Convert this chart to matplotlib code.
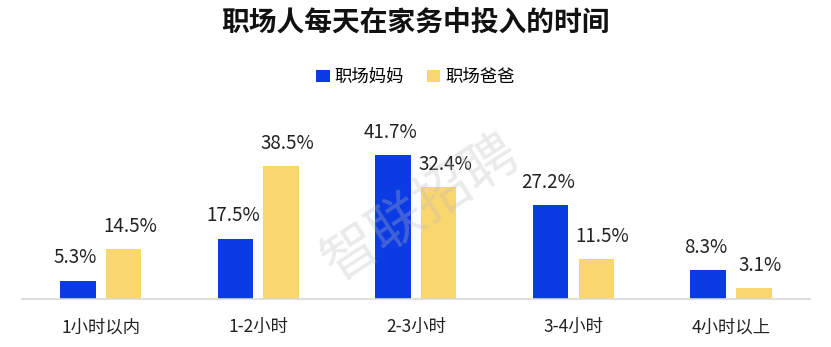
import matplotlib
matplotlib.use("Agg")
import matplotlib.pyplot as plt
import numpy as np
from matplotlib.patches import Patch

plt.rcParams['font.family'] = ['Noto Sans CJK SC', 'DejaVu Sans']

categories = ["1小时以内", "1-2小时", "2-3小时", "3-4小时", "4小时以上"]
moms = [5.3, 17.5, 41.7, 27.2, 8.3]
dads = [14.5, 38.5, 32.4, 11.5, 3.1]
series_names = ["职场妈妈", "职场爸爸"]
title = "职场人每天在家务中投入的时间"

blue = "#0B3BE3"
yellow = "#FAD66E"

fig = plt.figure(figsize=(8.31, 3.47), dpi=100)
ax = fig.add_axes([0.0265, 0.1383, 0.948, 0.497])
x = np.arange(len(categories))
w = 0.225
off = 0.145
ax.bar(x - off, moms, w, color=blue)
ax.bar(x + off, dads, w, color=yellow)
for xi, v in zip(x - off, moms):
    ax.text(xi - 0.015, v + 3.6, f"{v}%", ha="center", va="bottom", fontsize=13.5, color="#222222")
for xi, v in zip(x + off, dads):
    ax.text(xi + 0.04, v + 3.6, f"{v}%", ha="center", va="bottom", fontsize=13.5, color="#222222")
ax.set_xlim(-0.5, len(categories) - 0.5)
ax.set_ylim(0, 50)
ax.set_xticks(x)
ax.set_xticklabels(categories, fontsize=12.5, color="#222222")
ax.tick_params(axis="x", length=0, pad=14)
ax.set_yticks([])
for s in ["top", "right", "left"]:
    ax.spines[s].set_visible(False)
ax.spines["bottom"].set_color("#d9d9d9")
ax.spines["bottom"].set_linewidth(1.2)

fig.text(0.5, 0.935, title, ha="center", va="center", fontsize=20, fontweight="bold", color="#111111")

handles = [Patch(facecolor=blue), Patch(facecolor=yellow)]
fig.legend(handles, series_names, loc="center", bbox_to_anchor=(0.5, 0.778), ncol=2,
           frameon=False, fontsize=12.5, handlelength=0.75, handleheight=0.75,
           handletextpad=0.3, columnspacing=1.3)

fig.text(0.508, 0.40, "智联招聘", ha="center", va="center", fontsize=40, rotation=33,
         color="#bbbbbb", alpha=0.3)

fig.savefig("out.png", dpi=100)
